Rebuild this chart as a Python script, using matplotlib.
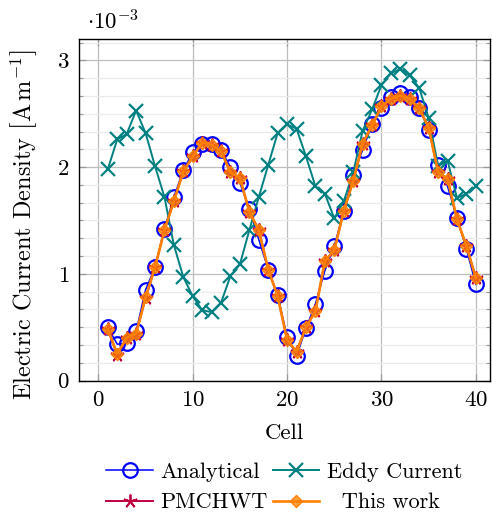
import numpy as np
import matplotlib
matplotlib.use("Agg")
import matplotlib.pyplot as plt
from matplotlib.ticker import MultipleLocator

# values, in units of 1e-3 A/m
cells = list(range(1, 41))
analytical = [0.50, 0.34, 0.35, 0.46, 0.85, 1.06, 1.42, 1.72, 1.97, 2.14,
              2.22, 2.22, 2.16, 2.00, 1.85, 1.61, 1.32, 1.04, 0.80, 0.41,
              0.23, 0.49, 0.72, 1.03, 1.26, 1.59, 1.93, 2.16, 2.40, 2.55,
              2.66, 2.69, 2.66, 2.55, 2.35, 2.02, 1.82, 1.52, 1.23, 0.90]
eddy = [1.98, 2.26, 2.31, 2.53, 2.32, 2.01, 1.72, 1.27, 0.97, 0.79,
        0.66, 0.64, 0.73, 0.98, 1.09, 1.41, 1.72, 2.02, 2.32, 2.40,
        2.36, 2.10, 1.82, 1.75, 1.52, 1.68, 1.95, 2.34, 2.54, 2.77,
        2.88, 2.92, 2.86, 2.74, 2.46, 2.01, 2.06, 1.71, 1.75, 1.82]
pmchwt = [0.48, 0.24, 0.40, 0.44, 0.77, 1.06, 1.41, 1.68, 1.96, 2.10,
          2.23, 2.21, 2.15, 1.95, 1.90, 1.58, 1.41, 1.04, 0.79, 0.38,
          0.27, 0.50, 0.65, 1.12, 1.22, 1.59, 1.87, 2.22, 2.39, 2.57,
          2.64, 2.67, 2.64, 2.55, 2.37, 1.95, 1.89, 1.51, 1.26, 0.96]
this_work = [0.48, 0.25, 0.40, 0.44, 0.78, 1.06, 1.41, 1.68, 1.96, 2.10,
             2.23, 2.21, 2.15, 1.95, 1.90, 1.58, 1.41, 1.04, 0.79, 0.38,
             0.27, 0.50, 0.65, 1.12, 1.22, 1.59, 1.87, 2.22, 2.39, 2.57,
             2.64, 2.67, 2.64, 2.55, 2.37, 1.95, 1.89, 1.51, 1.26, 0.96]

plt.rcParams['font.family'] = ['cmr10', 'DejaVu Serif']
plt.rcParams['mathtext.fontset'] = 'cm'
plt.rcParams['axes.formatter.use_mathtext'] = True
plt.rcParams['font.size'] = 15.5

blue = (0, 0, 1)
teal = (0, 0.5, 0.5)
purple = (0.75, 0, 0.25)
orange = (1, 0.5, 0)

fig = plt.figure(figsize=(4.92, 5.14), dpi=100)
ax = fig.add_axes([0.1606, 0.2597, 0.8354, 0.6643])

l_an, = ax.plot(cells, analytical, color=blue, lw=1.1, marker='o', ms=10.5,
                mfc='none', mec=blue, mew=1.6, label='Analytical', zorder=3)
l_ed, = ax.plot(cells, eddy, color=teal, lw=1.4, marker='x', ms=9.5,
                mew=1.6, label='Eddy Current', zorder=3)
l_pm, = ax.plot(cells, pmchwt, color=purple, lw=1.4, marker=(5, 2, 0), ms=10,
                mew=1.3, label='PMCHWT', zorder=4)
l_tw, = ax.plot(cells, this_work, color=orange, lw=1.9, marker='D', ms=6.5,
                mfc=(1, 0.5, 0, 0.75), mec=orange, mew=1.0,
                label='  This work', zorder=5)

ax.set_xlim(-2.05, 41.5)
ax.set_ylim(0, 3.2)
ax.xaxis.set_major_locator(MultipleLocator(10))
ax.yaxis.set_major_locator(MultipleLocator(1))
ax.yaxis.set_minor_locator(MultipleLocator(1 / 6))

ax.grid(which='major', color='#bdbdbd', lw=0.9)
ax.grid(which='minor', axis='y', color='#ebebeb', lw=0.9)
ax.set_axisbelow(True)
ax.tick_params(which='both', direction='in', top=True, right=True,
               color='#999999', pad=7, labelsize=16.5)
ax.tick_params(which='major', length=5, width=0.9)
ax.tick_params(which='minor', length=3, width=0.8)
for s in ax.spines.values():
    s.set_linewidth(1.0)

ax.set_xlabel('Cell', labelpad=10, fontsize=16.5)
ax.set_ylabel(r'Electric Current Density $\left[\mathrm{A\,m}^{-1}_{\;}\right]$',
              fontsize=17.5)
ax.yaxis.set_label_coords(-0.094, 0.456)
ax.text(0.02, 1.015, r'$\cdot 10^{-3}$', transform=ax.transAxes,
        ha='left', va='bottom', fontsize=16.5)

# row-wise order like the reference: columns are filled first in matplotlib
fig.legend([l_an, l_pm, l_ed, l_tw],
           [l.get_label() for l in (l_an, l_pm, l_ed, l_tw)],
           loc='center', bbox_to_anchor=(0.578, 0.052), ncol=2, frameon=False,
           handlelength=2.1, handletextpad=0.35, columnspacing=0.2,
           labelspacing=0.5, borderpad=0.2, fontsize=16)

fig.savefig('out.png', dpi=100)
